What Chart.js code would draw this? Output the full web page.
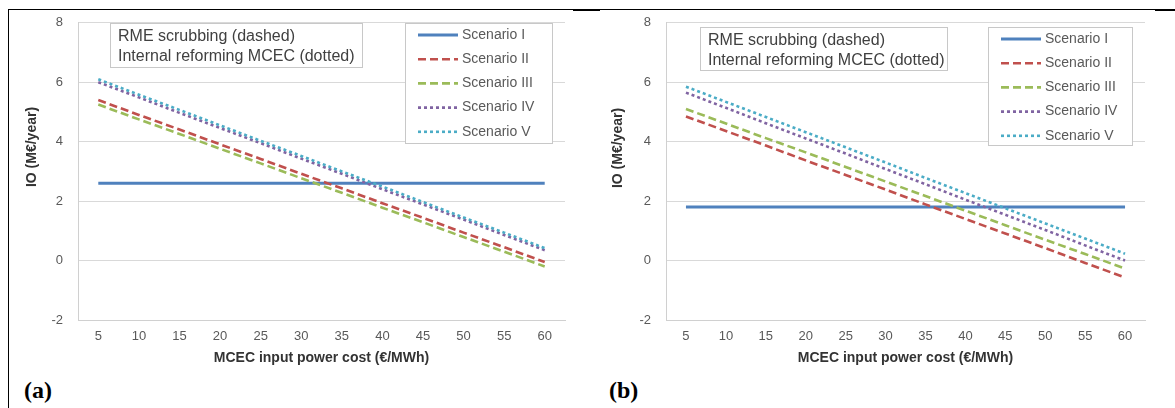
<!DOCTYPE html>
<html><head><meta charset="utf-8">
<script src="https://cdn.jsdelivr.net/npm/chart.js@4.4.1/dist/chart.umd.min.js"></script>
<style>
html,body{margin:0;padding:0;background:#fff;width:1175px;height:408px;overflow:hidden;}
#wrap{position:relative;width:1175px;height:408px;}
canvas{position:absolute;}
.lbl{position:absolute;font-family:"Liberation Serif","Times New Roman",serif;font-weight:bold;font-size:24px;color:#000;line-height:28px;}
.rule{position:absolute;background:#000;}
</style></head><body>
<div id="wrap">
<canvas id="ca" width="580" height="370" style="left:0;top:0"></canvas>
<canvas id="cb" width="580" height="370" style="left:585px;top:0"></canvas>
<div class="rule" style="left:8px;top:9px;width:1167px;height:1px"></div>
<div class="rule" style="left:8px;top:9px;width:1px;height:399px"></div>
<div class="rule" style="left:573px;top:9px;width:27px;height:2px"></div>
<div class="rule" style="left:1155px;top:9px;width:20px;height:2px"></div>
<div class="lbl" style="left:24px;top:376px">(a)</div>
<div class="lbl" style="left:609px;top:376px">(b)</div>
</div>
<script>
// ---- data ----
const categories = ['5','10','15','20','25','30','35','40','45','50','55','60'];
const seriesNames = ['Scenario I','Scenario II','Scenario III','Scenario IV','Scenario V'];
const yTickValues = [-2, 0, 2, 4, 6, 8];
const xAxisTitle = 'MCEC input power cost (\u20AC/MWh)';
const yAxisTitle = 'IO (M\u20AC/year)';
const noteLines = ['RME scrubbing (dashed)', 'Internal reforming MCEC (dotted)'];

// panel (a)
const a_I   = [2.6, 2.6, 2.6, 2.6, 2.6, 2.6, 2.6, 2.6, 2.6, 2.6, 2.6, 2.6];
const a_II  = [5.40, 4.90, 4.41, 3.91, 3.42, 2.92, 2.43, 1.93, 1.44, 0.94, 0.45, -0.05];
const a_III = [5.25, 4.75, 4.26, 3.76, 3.27, 2.77, 2.28, 1.78, 1.29, 0.79, 0.30, -0.20];
const a_IV  = [6.00, 5.49, 4.97, 4.46, 3.95, 3.43, 2.92, 2.40, 1.89, 1.38, 0.86, 0.35];
const a_V   = [6.10, 5.58, 5.07, 4.55, 4.03, 3.52, 3.00, 2.49, 1.97, 1.45, 0.94, 0.42];

// panel (b)
const b_I   = [1.8, 1.8, 1.8, 1.8, 1.8, 1.8, 1.8, 1.8, 1.8, 1.8, 1.8, 1.8];
const b_II  = [4.85, 4.36, 3.87, 3.37, 2.88, 2.39, 1.89, 1.40, 0.91, 0.42, -0.08, -0.57];
const b_III = [5.10, 4.61, 4.12, 3.64, 3.15, 2.66, 2.17, 1.68, 1.19, 0.70, 0.22, -0.27];
const b_IV  = [5.65, 5.14, 4.62, 4.11, 3.60, 3.08, 2.57, 2.05, 1.54, 1.03, 0.51, 0.00];
const b_V   = [5.85, 5.34, 4.83, 4.32, 3.81, 3.30, 2.78, 2.27, 1.76, 1.25, 0.74, 0.23];

// ---- styles ----
const colors = ['#4F81BD', '#C0504D', '#9BBB59', '#8064A2', '#4BACC6'];
const dashes = [[], [8, 4], [8, 4], [3, 3], [3, 3]];
const FONT = '"Liberation Sans", Arial, sans-serif';

const decor = {
  id: 'decor',
  afterDraw(chart, args, opts) {
    const ctx = chart.ctx;
    ctx.save();
    // y title
    ctx.save();
    ctx.translate(opts.yTitle.x, opts.yTitle.y);
    ctx.rotate(-Math.PI / 2);
    ctx.font = 'bold 14px ' + FONT;
    ctx.fillStyle = '#333333';
    ctx.textAlign = 'center';
    ctx.textBaseline = 'middle';
    ctx.fillText(yAxisTitle, 0, 0);
    ctx.restore();
    // note box
    const nb = opts.note;
    ctx.fillStyle = '#ffffff';
    ctx.fillRect(nb.x, nb.y, nb.w, nb.h);
    ctx.strokeStyle = '#C8C8C8';
    ctx.lineWidth = 1;
    ctx.strokeRect(nb.x + 0.5, nb.y + 0.5, nb.w, nb.h);
    ctx.font = '16px ' + FONT;
    ctx.fillStyle = '#404040';
    ctx.textAlign = 'left';
    ctx.textBaseline = 'middle';
    noteLines.forEach((t, i) => ctx.fillText(t, nb.x + 8, nb.y + 14 + i * 20));
    // legend box
    const lb = opts.legend;
    ctx.fillStyle = '#ffffff';
    ctx.fillRect(lb.x, lb.y, lb.w, lb.h);
    ctx.strokeStyle = '#C8C8C8';
    ctx.strokeRect(lb.x + 0.5, lb.y + 0.5, lb.w, lb.h);
    ctx.font = '14px ' + FONT;
    chart.data.datasets.forEach((ds, i) => {
      const y = lb.y + 12 + i * 24.2;
      ctx.save();
      ctx.strokeStyle = ds.borderColor;
      ctx.lineWidth = ds.borderWidth;
      ctx.setLineDash(ds.borderDash || []);
      ctx.beginPath();
      ctx.moveTo(lb.x + 13, y);
      ctx.lineTo(lb.x + 53, y);
      ctx.stroke();
      ctx.restore();
      ctx.fillStyle = '#595959';
      ctx.textAlign = 'left';
      ctx.textBaseline = 'middle';
      ctx.fillText(ds.label, lb.x + 57, y);
    });
    ctx.restore();
  }
};

function makeChart(id, series, area, deco) {
  const datasets = series.map((d, i) => ({
    label: seriesNames[i],
    data: d,
    borderColor: colors[i],
    backgroundColor: colors[i],
    borderDash: dashes[i],
    borderWidth: i === 0 ? 3 : 2.6,
    pointRadius: 0,
    tension: 0,
    fill: false,
    order: 5 - i
  }));
  return new Chart(document.getElementById(id), {
    type: 'line',
    data: { labels: categories, datasets },
    options: {
      responsive: false,
      animation: false,
      events: [],
      layout: { padding: { top: area.top, right: area.right, left: 0, bottom: 0 } },
      plugins: {
        legend: { display: false },
        tooltip: { enabled: false },
        decor: deco
      },
      scales: {
        x: {
          type: 'category',
          offset: true,
          grid: { display: false, drawTicks: false },
          border: { display: true, color: '#D0D0D0', width: 1 },
          ticks: { color: '#595959', font: { family: FONT, size: 13 }, padding: 9, maxRotation: 0, autoSkip: false },
          title: { display: true, text: xAxisTitle, color: '#333333', font: { family: FONT, size: 14, weight: 'bold' }, padding: { top: 0, bottom: 3 } },
          afterFit(s) { s.height = area.xh; }
        },
        y: {
          min: -2, max: 8,
          afterBuildTicks(s) { s.ticks = yTickValues.map(v => ({ value: v })); },
          grid: { color: '#D9D9D9', drawTicks: false, lineWidth: 1 },
          border: { display: true, color: '#D0D0D0', width: 1 },
          ticks: { color: '#595959', font: { family: FONT, size: 13 }, padding: 15 },
          afterFit(s) { s.width = area.left; }
        }
      }
    },
    plugins: [decor]
  });
}

makeChart('ca', [a_I, a_II, a_III, a_IV, a_V],
  { left: 78, top: 19, right: 15, xh: 50 },
  { yTitle: { x: 32, y: 147 }, note: { x: 110, y: 23, w: 252, h: 44 }, legend: { x: 405, y: 23, w: 147, h: 120 } });

makeChart('cb', [b_I, b_II, b_III, b_IV, b_V],
  { left: 81, top: 20, right: 20, xh: 50 },
  { yTitle: { x: 33, y: 148 }, note: { x: 115, y: 27, w: 247, h: 43 }, legend: { x: 403, y: 27, w: 144, h: 118 } });
</script>
</body></html>
